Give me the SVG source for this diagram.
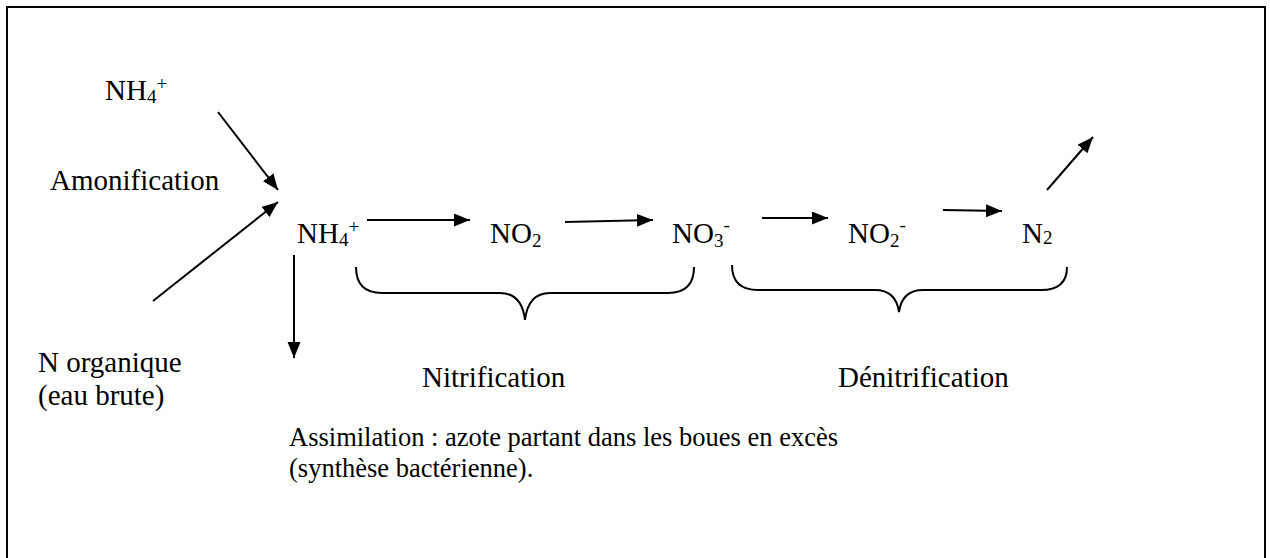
<svg xmlns="http://www.w3.org/2000/svg" width="1270" height="558" viewBox="0 0 1270 558">
<style>
text{font-family:"Liberation Serif","Times New Roman",serif;fill:#000;font-size:29px}
.small{font-size:26.5px}
.sub{font-size:19px}
.line{stroke:#000;stroke-width:2;fill:none}
</style>
<defs>
<marker id="ah" markerUnits="userSpaceOnUse" markerWidth="17" markerHeight="14" refX="16" refY="6.5" orient="auto">
<path d="M0,0 L16,6.5 L0,13 z" fill="#000"/>
</marker>
</defs>
<rect x="7" y="7" width="1258" height="560" fill="#fff" stroke="#000" stroke-width="2"/>
<g id="nh4-top"><text x="105" y="100">NH<tspan class="sub" dy="3">4</tspan><tspan class="sub" dy="-13">+</tspan></text></g>
<g id="amonification"><text x="50" y="190">Amonification</text></g>
<g id="norg"><text x="38" y="372">N organique</text><text x="38" y="405">(eau brute)</text></g>
<g id="nh4"><text x="297" y="243">NH<tspan class="sub" dy="3">4</tspan><tspan class="sub" dy="-13">+</tspan></text></g>
<g id="no2a"><text x="490" y="243">NO<tspan class="sub" dy="4">2</tspan></text></g>
<g id="no3"><text x="672" y="243">NO<tspan class="sub" dy="4">3</tspan><tspan class="sub" dy="-16">-</tspan></text></g>
<g id="no2b"><text x="848" y="243">NO<tspan class="sub" dy="4">2</tspan><tspan class="sub" dy="-16">-</tspan></text></g>
<g id="n2"><text x="1022" y="243">N<tspan class="sub" dy="1">2</tspan></text></g>
<g id="nitrification"><text x="422" y="387">Nitrification</text></g>
<g id="denitrification"><text x="838" y="387">Dénitrification</text></g>
<g id="assimilation"><text class="small" x="289" y="446">Assimilation : azote partant dans les boues en excès</text><text class="small" x="289" y="477">(synthèse bactérienne).</text></g>
<g id="braces">
<path class="line" d="M356,267 C356,285 365,293 382,293 L500,293 C515,293 523,303 525,320 C527,303 535,293 550,293 L668,293 C685,293 694,285 694,267"/>
<path class="line" d="M732,265 C732,282 741,290 758,290 L875,290 C890,290 897,298 899,312 C901,298 908,290 923,290 L1041,290 C1058,290 1067,282 1067,267"/>
</g>
<g id="connectors">
<line class="line" x1="218" y1="112" x2="278" y2="190" marker-end="url(#ah)"/>
<line class="line" x1="153" y1="301" x2="278" y2="202" marker-end="url(#ah)"/>
<line class="line" x1="294" y1="255" x2="294" y2="358" marker-end="url(#ah)"/>
<line class="line" x1="367" y1="220" x2="470" y2="220" marker-end="url(#ah)"/>
<line class="line" x1="565" y1="222" x2="653" y2="220" marker-end="url(#ah)"/>
<line class="line" x1="762" y1="218" x2="828" y2="218" marker-end="url(#ah)"/>
<line class="line" x1="943" y1="210" x2="1002" y2="211" marker-end="url(#ah)"/>
<line class="line" x1="1047" y1="190" x2="1093" y2="137" marker-end="url(#ah)"/>
</g>
</svg>
